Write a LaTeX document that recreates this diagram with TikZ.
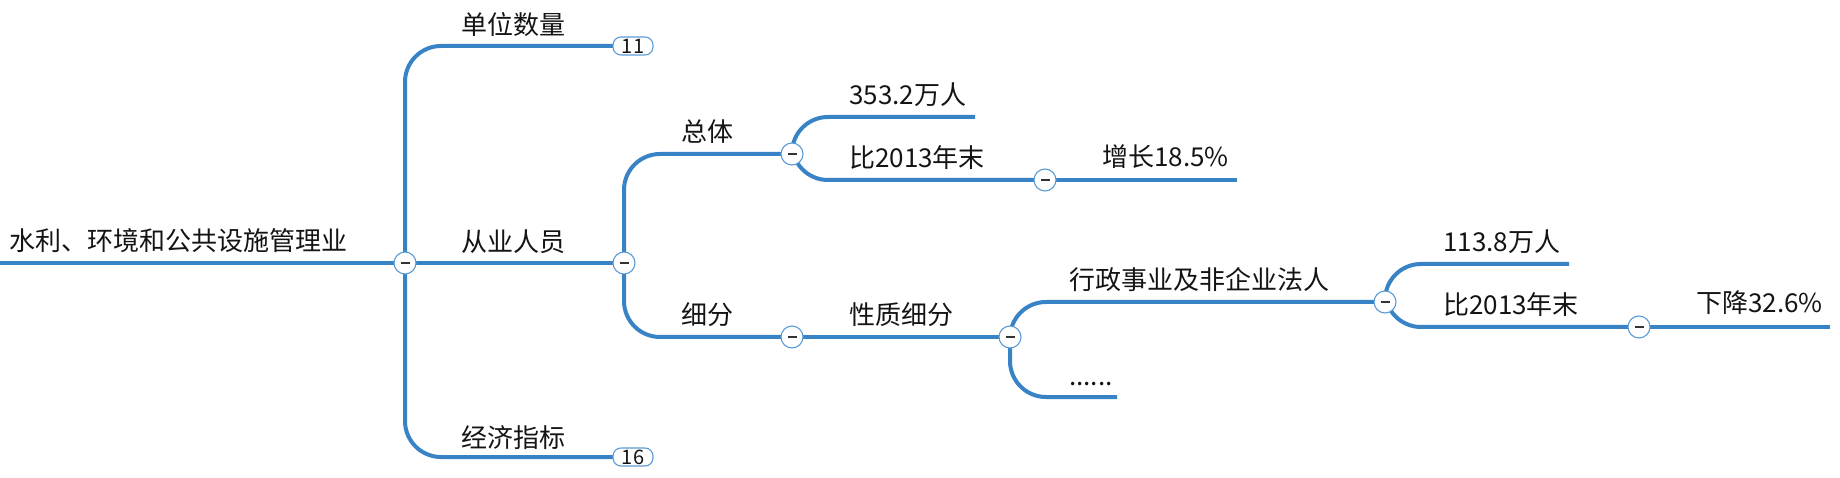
\documentclass[tikz,border=0pt]{standalone}
\usepackage{fontspec}
\setmainfont{Noto Sans CJK SC}
\definecolor{linecol}{RGB}{55,131,197}
\definecolor{circcol}{RGB}{91,155,213}
\definecolor{txtcol}{RGB}{20,20,20}
\tikzset{
  conn/.style={draw=linecol, line width=4pt, rounded corners=36pt},
  label/.style={anchor=base west, inner sep=0pt, text=txtcol, font=\fontsize{26}{30}\selectfont},
  fold/.style={circle, draw=circcol, fill=white, line width=1.1pt, minimum size=22pt, inner sep=0pt,
    path picture={\draw[black!80, line width=1.1pt] ([xshift=-4.5pt]path picture bounding box.center) -- ([xshift=4.5pt]path picture bounding box.center);}},
  badge/.style={draw=circcol, fill=white, line width=1.1pt, rounded corners=8pt, minimum width=40pt, minimum height=18pt, inner sep=0pt, text=txtcol, font=\fontsize{20}{20}\selectfont}
}
\begin{document}
\begin{tikzpicture}[x=1pt,y=1pt]
\useasboundingbox (0,0) rectangle (1840,477);
% coordinates
\coordinate (start) at (0,214);
\coordinate (c0) at (405,214);
\coordinate (c1) at (624,214);
\coordinate (c2) at (792,323);
\coordinate (c3) at (1045,297);
\coordinate (c4) at (792,140);
\coordinate (c5) at (1010,140);
\coordinate (c6) at (1385,175);
\coordinate (c7) at (1639,150);
\coordinate (e353) at (975,360);
\coordinate (ezz) at (1237,297);
\coordinate (edots) at (1117,80);
\coordinate (e113) at (1569,213);
\coordinate (exj) at (1830,150);
% badge anchors
\coordinate (b11) at (633,431);
\coordinate (b16) at (633,20);
\coordinate (b11w) at (613,431);
\coordinate (b16w) at (613,20);
% connectors
\draw[conn] (start) -- (c0);
\draw[conn] (c0) |- (b11w);
\draw[conn] (c0) |- (b16w);
\draw[conn] (c0) -- (c1);
\draw[conn] (c1) |- (c2);
\draw[conn] (c1) |- (c4);
\draw[conn] (c2) |- (e353);
\draw[conn] (c2) |- (c3);
\draw[conn] (c3) -- (ezz);
\draw[conn] (c4) -- (c5);
\draw[conn] (c5) |- (c6);
\draw[conn] (c5) |- (edots);
\draw[conn] (c6) |- (e113);
\draw[conn] (c6) |- (c7);
\draw[conn] (c7) -- (exj);
% badges
\node[badge] (n11) at (b11) {11};
\node[badge] (n16) at (b16) {16};
% fold circles
\node[fold] (f0) at (c0) {};
\node[fold] (f1) at (c1) {};
\node[fold] (f2) at (c2) {};
\node[fold] (f3) at (c3) {};
\node[fold] (f4) at (c4) {};
\node[fold] (f5) at (c5) {};
\node[fold] (f6) at (c6) {};
\node[fold] (f7) at (c7) {};
% labels
\node[label] (t0) at (9,226) {水利、环境和公共设施管理业};
\node[label] (t1) at (461,442) {单位数量};
\node[label] (t2) at (461,225) {从业人员};
\node[label] (t3) at (461,30) {经济指标};
\node[label] (t4) at (681,335) {总体};
\node[label] (t5) at (681,152) {细分};
\node[label] (t6) at (849,372) {353.2万人};
\node[label] (t7) at (849,309) {比2013年末};
\node[label] (t8) at (1102,310) {增长18.5\%};
\node[label] (t9) at (849,152) {性质细分};
\node[label] (t10) at (1069,187) {行政事业及非企业法人};
\node[label] (t11) at (1069,92) {......};
\node[label] (t12) at (1443,225) {113.8万人};
\node[label] (t13) at (1443,162) {比2013年末};
\node[label] (t14) at (1696,164) {下降32.6\%};
\end{tikzpicture}
\end{document}
